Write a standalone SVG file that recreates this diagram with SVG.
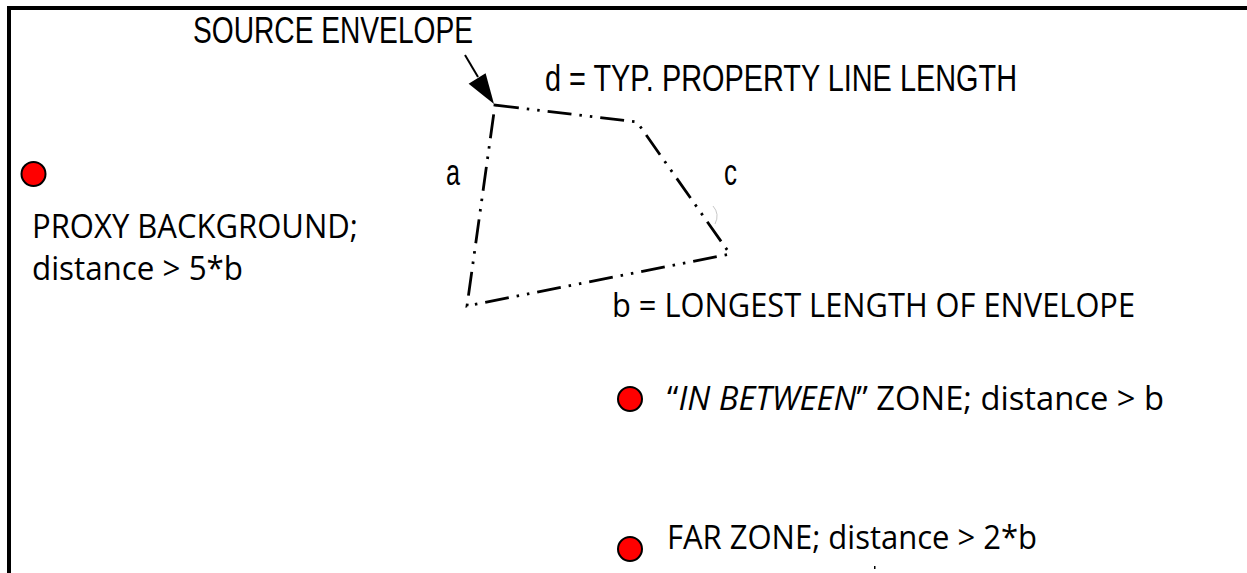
<svg xmlns="http://www.w3.org/2000/svg" width="1247" height="573" viewBox="0 0 1247 573">
<style>
.cond{font-family:"Liberation Sans",Arial,sans-serif;font-size:37px;fill:#000}
.body{font-family:"Open Sans","Noto Sans",sans-serif;font-size:32px;fill:#000}
.env{fill:none;stroke:#000;stroke-width:2.8;stroke-dasharray:24 8 2.5 8 2.5 8}
.dot{fill:#ff0000;stroke:#000;stroke-width:2}
</style>
<rect width="1247" height="573" fill="#fff"/>
<g id="frame" fill="none" stroke="#000" stroke-width="4">
<path d="M9 573 V8 H1247"/>
</g>
<g id="envelope">
<path class="env" d="M495 105 L637 122 L730 254 L467 306 Z"/>
<path d="M713 206 Q720 214 715 224" fill="none" stroke="#c8c8c8" stroke-width="1"/>
<text class="cond" x="446" y="185" textLength="14" lengthAdjust="spacingAndGlyphs">a</text>
<text class="cond" x="724" y="185" textLength="13" lengthAdjust="spacingAndGlyphs">c</text>
</g>
<g id="source-label">
<text class="cond" x="193" y="43" textLength="280" lengthAdjust="spacingAndGlyphs">SOURCE ENVELOPE</text>
</g>
<g id="d-label">
<text class="cond" x="545" y="91" textLength="472" lengthAdjust="spacingAndGlyphs">d = TYP. PROPERTY LINE LENGTH</text>
</g>
<g id="b-label">
<text class="body" x="612" y="317" textLength="523" lengthAdjust="spacingAndGlyphs">b = LONGEST LENGTH OF ENVELOPE</text>
</g>
<g id="proxy">
<circle class="dot" cx="33.5" cy="174" r="12"/>
<text class="body" x="32" y="238" textLength="326" lengthAdjust="spacingAndGlyphs">PROXY BACKGROUND;</text>
<text class="body" x="32" y="280" textLength="211" lengthAdjust="spacingAndGlyphs">distance &gt; 5*b</text>
</g>
<g id="in-between">
<circle class="dot" cx="630" cy="399" r="12"/>
<text class="body" x="667" y="410" textLength="497" lengthAdjust="spacingAndGlyphs">“<tspan font-style="italic">IN BETWEEN</tspan>” ZONE; distance &gt; b</text>
</g>
<g id="far">
<circle class="dot" cx="630" cy="549" r="12"/>
<text class="body" x="667" y="549" textLength="370" lengthAdjust="spacingAndGlyphs">FAR ZONE; distance &gt; 2*b</text>
</g>
<g id="connectors">
<line x1="465" y1="55" x2="478" y2="77" stroke="#000" stroke-width="2"/>
<polygon points="494,104 468.6,83.8 485.6,73.2" fill="#000"/>
<rect x="874" y="566" width="1.5" height="3" fill="#000"/>
</g>
</svg>
